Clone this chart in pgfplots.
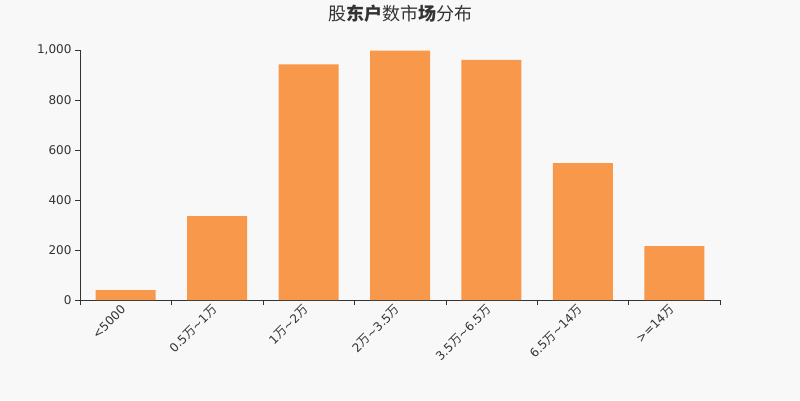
\documentclass[border=0pt]{standalone}
\usepackage{fontspec}
\setmainfont{DejaVu Sans}
\newfontfamily\cjk{Noto Sans CJK SC}
\usepackage{pgfplots}
\pgfplotsset{compat=1.18}
\definecolor{barc}{HTML}{F7984A}
\definecolor{bgc}{HTML}{F8F8F8}
\definecolor{txt}{HTML}{333333}
\newcommand{\W}{{\cjk 万}}

\begin{document}
\begin{tikzpicture}[x=1pt,y=1pt]
\fill[bgc] (0,0) rectangle (800,400);
\useasboundingbox (0,0) rectangle (800,400);
\node[text=txt, font=\fontsize{18}{20}\selectfont] at (400,386)
  {\cjk 股\textbf{东户}数市\textbf{场}分布};
\begin{axis}[
  at={(80pt,100pt)}, anchor=south west,
  scale only axis, width=640pt, height=250pt,
  xmin=-0.5, xmax=6.5, ymin=0, ymax=1000,
  ybar, bar width=60pt,
  axis lines*=left,
  axis line style={txt},
  tick align=outside,
  major tick length=5pt, minor tick length=5pt,
  xtick={0,...,6},
  xticklabels={{<5000}, {0.5\W\textasciitilde 1\W}, {1\W\textasciitilde 2\W},
    {2\W\textasciitilde 3.5\W}, {3.5\W\textasciitilde 6.5\W},
    {6.5\W\textasciitilde 14\W}, {>=14\W}},
  minor xtick={-0.5,0.5,...,6.5},
  major x tick style={draw=none},
  minor x tick style={txt},
  ytick={0,200,...,1000},
  ytick style={txt},
  /pgf/number format/assume math mode=true,
  /pgf/number format/1000 sep={,},
  ticklabel style={text=txt, font=\fontsize{12}{14}\selectfont},
  xticklabel style={rotate=45, anchor=east},
]
\addplot[fill=barc, draw=none] coordinates {
  (0,40) (1,336) (2,943) (3,998) (4,961) (5,548) (6,216)
};
\end{axis}
\end{tikzpicture}
\end{document}
